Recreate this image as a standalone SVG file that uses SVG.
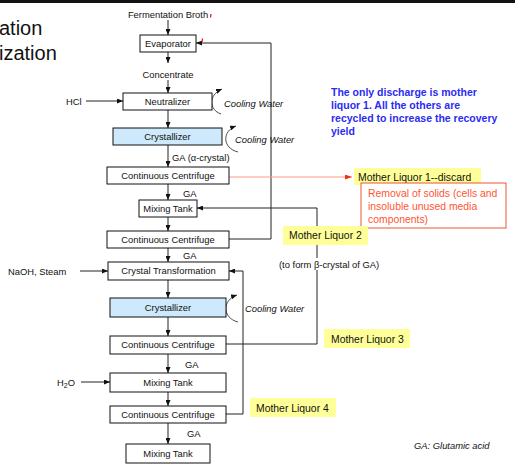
<svg xmlns="http://www.w3.org/2000/svg" width="515" height="467" viewBox="0 0 515 467">
<style>
text{font-family:"Liberation Sans",Arial,sans-serif;font-size:9.4px;fill:#111}
.box{fill:#fff;stroke:#111;stroke-width:1}
.blue{fill:#cde9fb;stroke:#111;stroke-width:1}
.c{text-anchor:middle}
.ln{fill:none;stroke:#222;stroke-width:1}
.cool{fill:none;stroke:#222;stroke-width:0.8}
.it{font-style:italic}
.ml{fill:#ffff99}
.mlt{font-size:10.4px}
.note{font-size:10.5px;font-weight:bold;fill:#2b2bf2}
</style>
<defs>
<marker id="ah" markerWidth="6" markerHeight="5" refX="6" refY="2.5" orient="auto" markerUnits="userSpaceOnUse"><path d="M0,0 L6,2.5 L0,5 z" fill="#111"/></marker>
<marker id="ahr" markerWidth="7" markerHeight="5" refX="7" refY="2.5" orient="auto" markerUnits="userSpaceOnUse"><path d="M0,0 L7,2.5 L0,5 z" fill="#ee3311"/></marker>
</defs>
<rect x="0" y="0" width="515" height="3" fill="#111"/>
<text x="-1" y="35" style="font-size:20px">ation</text>
<text x="-1" y="60" style="font-size:20px">ization</text>

<g id="connectors">
<line class="ln" x1="168" y1="20" x2="168" y2="35" marker-end="url(#ah)"/>
<line class="ln" x1="168" y1="52" x2="168" y2="63" marker-end="url(#ah)"/>
<line class="ln" x1="168" y1="80" x2="168" y2="93" marker-end="url(#ah)"/>
<line class="ln" x1="168" y1="110" x2="168" y2="128" marker-end="url(#ah)"/>
<line class="ln" x1="168" y1="145" x2="168" y2="167" marker-end="url(#ah)"/>
<line class="ln" x1="168" y1="184" x2="168" y2="200" marker-end="url(#ah)"/>
<line class="ln" x1="168" y1="217" x2="168" y2="231" marker-end="url(#ah)"/>
<line class="ln" x1="168" y1="248" x2="168" y2="262" marker-end="url(#ah)"/>
<line class="ln" x1="168" y1="280" x2="168" y2="298" marker-end="url(#ah)"/>
<line class="ln" x1="168" y1="317" x2="168" y2="336" marker-end="url(#ah)"/>
<line class="ln" x1="168" y1="354" x2="168" y2="373" marker-end="url(#ah)"/>
<line class="ln" x1="168" y1="392" x2="168" y2="406" marker-end="url(#ah)"/>
<line class="ln" x1="168" y1="423" x2="168" y2="444" marker-end="url(#ah)"/>
<line class="ln" x1="86" y1="101" x2="123" y2="101" marker-end="url(#ah)"/>
<line class="ln" x1="80" y1="271" x2="108" y2="271" marker-end="url(#ah)"/>
<line class="ln" x1="81" y1="382" x2="110" y2="382" marker-end="url(#ah)"/>
<polyline class="ln" points="229,239 271,239 271,43 196,43" marker-end="url(#ah)"/>
<polyline class="ln" points="226,344 317,344 317,208 197,208" marker-end="url(#ah)"/>
<polyline class="ln" points="226,414 243,414 243,271 229,271" marker-end="url(#ah)"/>
<line x1="229" y1="177" x2="352" y2="177" stroke="#ff9988" stroke-width="1.2" marker-end="url(#ahr)"/>
<path class="cool" d="M221,114 C209,110 208,95 222,89" marker-end="url(#ah)"/>
<path class="cool" d="M238,152 C222,148 222,131 236,126" marker-end="url(#ah)"/>
<path class="cool" d="M238,322 C222,318 222,300 237,295" marker-end="url(#ah)"/>
<line x1="211" y1="14" x2="210.5" y2="17.5" stroke="#e00" stroke-width="1.2"/>
<line x1="202.5" y1="38.5" x2="202" y2="42" stroke="#e00" stroke-width="1.2"/>
</g>

<text class="c" x="168" y="18">Fermentation Broth</text>
<text class="c" x="168" y="78">Concentrate</text>
<text x="66" y="104.5">HCl</text>
<text x="8" y="274.5">NaOH, Steam</text>
<text x="57" y="386">H<tspan style="font-size:7px" dy="2">2</tspan><tspan dy="-2">O</tspan></text>
<text class="it" x="224" y="106.5">Cooling Water</text>
<text class="it" x="235" y="143">Cooling Water</text>
<text class="it" x="245" y="311.5">Cooling Water</text>
<text x="172" y="161">GA (α-crystal)</text>
<text x="183" y="196.5">GA</text>
<text x="183" y="259">GA</text>
<text x="185" y="367.5">GA</text>
<text x="187" y="436.5">GA</text>

<g id="evaporator"><rect class="box" x="140" y="35" width="56" height="17"/><text class="c" x="168" y="46.8">Evaporator</text></g>
<g id="neutralizer"><rect class="box" x="123" y="93" width="89" height="17"/><text class="c" x="167.5" y="104.8">Neutralizer</text></g>
<g id="crystallizer1"><rect class="blue" x="113" y="128" width="109" height="17"/><text class="c" x="167.5" y="139.8">Crystallizer</text></g>
<g id="centrifuge1"><rect class="box" x="107" y="167" width="122" height="17"/><text class="c" x="168" y="178.8">Continuous Centrifuge</text></g>
<g id="mixing1"><rect class="box" x="139" y="200" width="58" height="17"/><text class="c" x="168" y="211.8">Mixing Tank</text></g>
<g id="centrifuge2"><rect class="box" x="107" y="231" width="122" height="17"/><text class="c" x="168" y="242.8">Continuous Centrifuge</text></g>
<g id="transformation"><rect class="box" x="108" y="262" width="121" height="18"/><text class="c" x="168.5" y="274.3">Crystal Transformation</text></g>
<g id="crystallizer2"><rect class="blue" x="110" y="298" width="116" height="19"/><text class="c" x="168" y="310.8">Crystallizer</text></g>
<g id="centrifuge3"><rect class="box" x="110" y="336" width="116" height="18"/><text class="c" x="168" y="348.3">Continuous Centrifuge</text></g>
<g id="mixing2"><rect class="box" x="110" y="373" width="116" height="19"/><text class="c" x="168" y="385.8">Mixing Tank</text></g>
<g id="centrifuge4"><rect class="box" x="110" y="406" width="116" height="17"/><text class="c" x="168" y="417.8">Continuous Centrifuge</text></g>
<g id="mixing3"><rect class="box" x="126" y="444" width="84" height="19"/><text class="c" x="168" y="456.8">Mixing Tank</text></g>

<g id="ml1"><rect class="ml" x="354" y="168" width="127" height="17"/><text class="mlt" x="358" y="180.5">Mother Liquor 1--discard</text></g>
<g id="removal"><rect x="361" y="183" width="145" height="45" fill="#fff" stroke="#ee5533" stroke-width="1"/>
<text class="mlt" x="368" y="196.5" style="fill:#ff5533">Removal of solids (cells and</text>
<text class="mlt" x="368" y="209.5" style="fill:#ff5533">insoluble unused media</text>
<text class="mlt" x="368" y="222.5" style="fill:#ff5533">components)</text></g>
<g id="ml2"><rect class="ml" x="283" y="226" width="85" height="19"/><text class="mlt" x="289" y="239">Mother Liquor 2</text></g>
<g id="note-beta"><rect x="279" y="258" width="101" height="12" fill="#fff"/><text x="279" y="267.5">(to form β-crystal of GA)</text></g>
<g id="ml3"><rect class="ml" x="324" y="329" width="86" height="19"/><text class="mlt" x="331" y="342.5">Mother Liquor 3</text></g>
<g id="ml4"><rect class="ml" x="250" y="398" width="86" height="19"/><text class="mlt" x="256" y="411.5">Mother Liquor 4</text></g>

<g id="blue-note">
<text class="note" x="331" y="95.5">The only discharge is mother</text>
<text class="note" x="331" y="108.5">liquor 1. All the others are</text>
<text class="note" x="331" y="121.5">recycled to increase the recovery</text>
<text class="note" x="331" y="134.5">yield</text>
</g>
<text class="it" x="414" y="448.5">GA: Glutamic acid</text>
</svg>
